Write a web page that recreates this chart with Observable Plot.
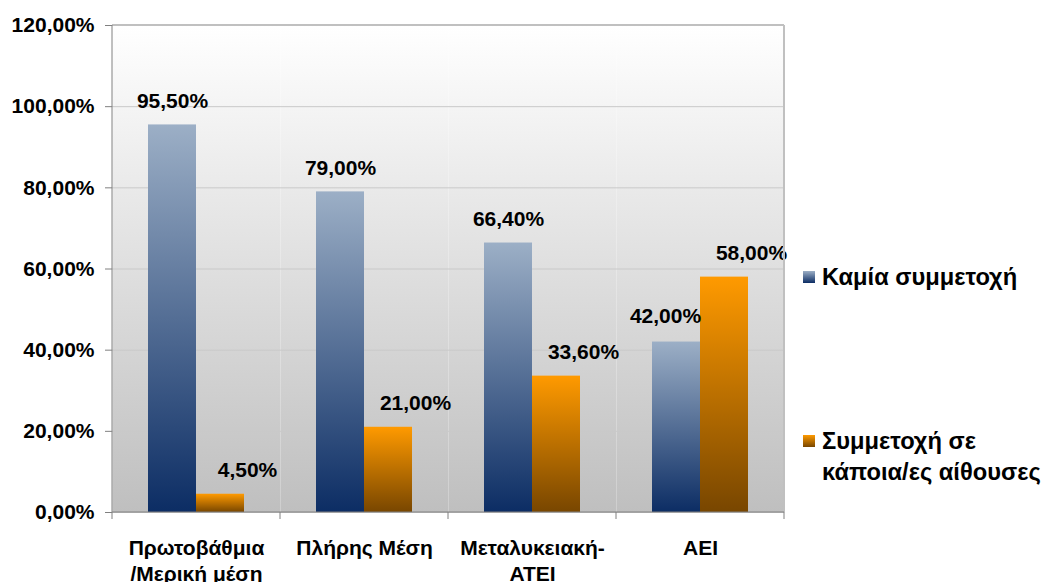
<!DOCTYPE html>
<html><head><meta charset="utf-8">
<script src="https://cdn.jsdelivr.net/npm/d3@7"></script>
<script src="https://cdn.jsdelivr.net/npm/@observablehq/plot@0.6"></script>
<style>
body{margin:0;background:#fff;}
#wrap{position:relative;width:1051px;height:582px;font-family:"Liberation Sans",Arial,sans-serif;font-weight:bold;color:#000;}
.lt{position:absolute;left:822px;font-size:23.7px;line-height:31px;white-space:nowrap;}
.sw{position:absolute;left:803px;width:12px;height:12px;}
</style></head><body><div id="wrap"></div>
<script>
const categories = ["Πρωτοβάθμια\n/Μερική μέση", "Πλήρης Μέση", "Μεταλυκειακή-\nΑΤΕΙ", "ΑΕΙ"];
const seriesNames = ["Καμία συμμετοχή", "Συμμετοχή σε κάποια/ες αίθουσες"];
const noneValues = [95.5, 79.0, 66.4, 42.0];
const someValues = [4.5, 21.0, 33.6, 58.0];
const yTicks = [0, 20, 40, 60, 80, 100, 120];

const data = [];
categories.forEach((c, i) => {
  data.push({cat: c, series: seriesNames[0], value: noneValues[i]});
  data.push({cat: c, series: seriesNames[1], value: someValues[i]});
});
const fmt = v => v.toFixed(2).replace(".", ",") + "%";
const font = "Liberation Sans, Arial, sans-serif";
const FS = 21;
const blue = data.filter(d => d.series === seriesNames[0]);
const orange = data.filter(d => d.series === seriesNames[1]);

const chart = Plot.plot({
  width: 1051, height: 582,
  marginTop: 25, marginBottom: 70, marginLeft: 111, marginRight: 267,
  style: {fontFamily: font, fontSize: FS + "px", fontWeight: "bold", color: "#000", background: "transparent", overflow: "visible"},
  fx: {domain: categories, padding: 0, label: null, axis: null},
  x: {domain: seriesNames, paddingInner: 0, paddingOuter: 0.75, axis: null},
  y: {domain: [0, 120], label: null},
  marks: [
    Plot.frame({fill: "url(#bgGrad)", stroke: null}),
    Plot.gridY(yTicks, {stroke: "#c9c9c9", strokeOpacity: 1, strokeWidth: 1}),
    Plot.axisY({ticks: yTicks, tickFormat: fmt, tickSize: 7, tickPadding: 11, stroke: "#808080", fill: "#000", label: null, fontSize: FS, fontWeight: "bold"}),
    Plot.axisFx({anchor: "bottom", tickSize: 0, tickPadding: 24, lineHeight: 1.25, fill: "#000", label: null, fontSize: FS, fontWeight: "bold"}),
    Plot.barY(blue, {fx: "cat", x: "series", y: "value", fill: "url(#gBlue)"}),
    Plot.barY(orange, {fx: "cat", x: "series", y: "value", fill: "url(#gOrange)"}),
    Plot.text(blue.filter(d => d.value > 50), {fx: "cat", x: "series", y: "value", text: d => fmt(d.value), dy: -24, fontSize: FS, fontWeight: "bold", fill: "#000"}),
    Plot.text(blue.filter(d => d.value <= 50), {fx: "cat", x: "series", y: "value", text: d => fmt(d.value), dy: -26, dx: -11, fontSize: FS, fontWeight: "bold", fill: "#000"}),
    Plot.text(orange, {fx: "cat", x: "series", y: "value", text: d => fmt(d.value), dy: -24, dx: 27, fontSize: FS, fontWeight: "bold", fill: "#000"})
  ]
});

const svg = d3.select(chart);
const defs = svg.insert("defs", ":first-child");
function grad(id, c0, c1) {
  const g = defs.append("linearGradient").attr("id", id).attr("x1", 0).attr("y1", 0).attr("x2", 0).attr("y2", 1);
  g.append("stop").attr("offset", "0%").attr("stop-color", c0);
  g.append("stop").attr("offset", "100%").attr("stop-color", c1);
}
grad("bgGrad", "#ffffff", "#bfbfbf");
grad("gBlue", "#9cafc6", "#0c2d64");
grad("gOrange", "#ff9a00", "#784600");

const fx = chart.scale("fx"), y = chart.scale("y");
const xs = categories.map(c => fx.apply(c));
const xEnd = xs[xs.length - 1] + fx.bandwidth;
const yTop = y.apply(120), yBot = y.apply(0);
const g = svg.append("g");
g.append("line").attr("x1", xs[0]).attr("x2", xEnd).attr("y1", yTop).attr("y2", yTop).attr("stroke", "#c0c0c0").attr("stroke-width", 2);
g.append("line").attr("x1", xEnd).attr("x2", xEnd).attr("y1", yTop).attr("y2", yBot).attr("stroke", "#c0c0c0").attr("stroke-width", 2);
g.append("line").attr("x1", xs[0]).attr("x2", xs[0]).attr("y1", yTop).attr("y2", yBot).attr("stroke", "#808080").attr("stroke-width", 1);
g.append("line").attr("x1", xs[0]).attr("x2", xEnd).attr("y1", yBot).attr("y2", yBot).attr("stroke", "#808080").attr("stroke-width", 1);
[...xs, xEnd].forEach(x => g.append("line").attr("x1", x).attr("x2", x).attr("y1", yBot).attr("y2", yBot + 7).attr("stroke", "#808080"));

const wrap = document.getElementById("wrap");
wrap.appendChild(chart);
const legend = [
  {name: "Καμία συμμετοχή", bg: "linear-gradient(#9cafc6,#0c2d64)", sw: 271, tx: 261.5},
  {name: "Συμμετοχή σε<br>κάποια/ες αίθουσες", bg: "linear-gradient(#ff9a00,#784600)", sw: 435, tx: 425.5}
];
legend.forEach(l => {
  const s = document.createElement("div"); s.className = "sw"; s.style.top = l.sw + "px"; s.style.background = l.bg; wrap.appendChild(s);
  const t = document.createElement("div"); t.className = "lt"; t.style.top = l.tx + "px"; t.innerHTML = l.name; wrap.appendChild(t);
});
chart.style.position = "absolute"; chart.style.left = "0"; chart.style.top = "0";
</script></body></html>
